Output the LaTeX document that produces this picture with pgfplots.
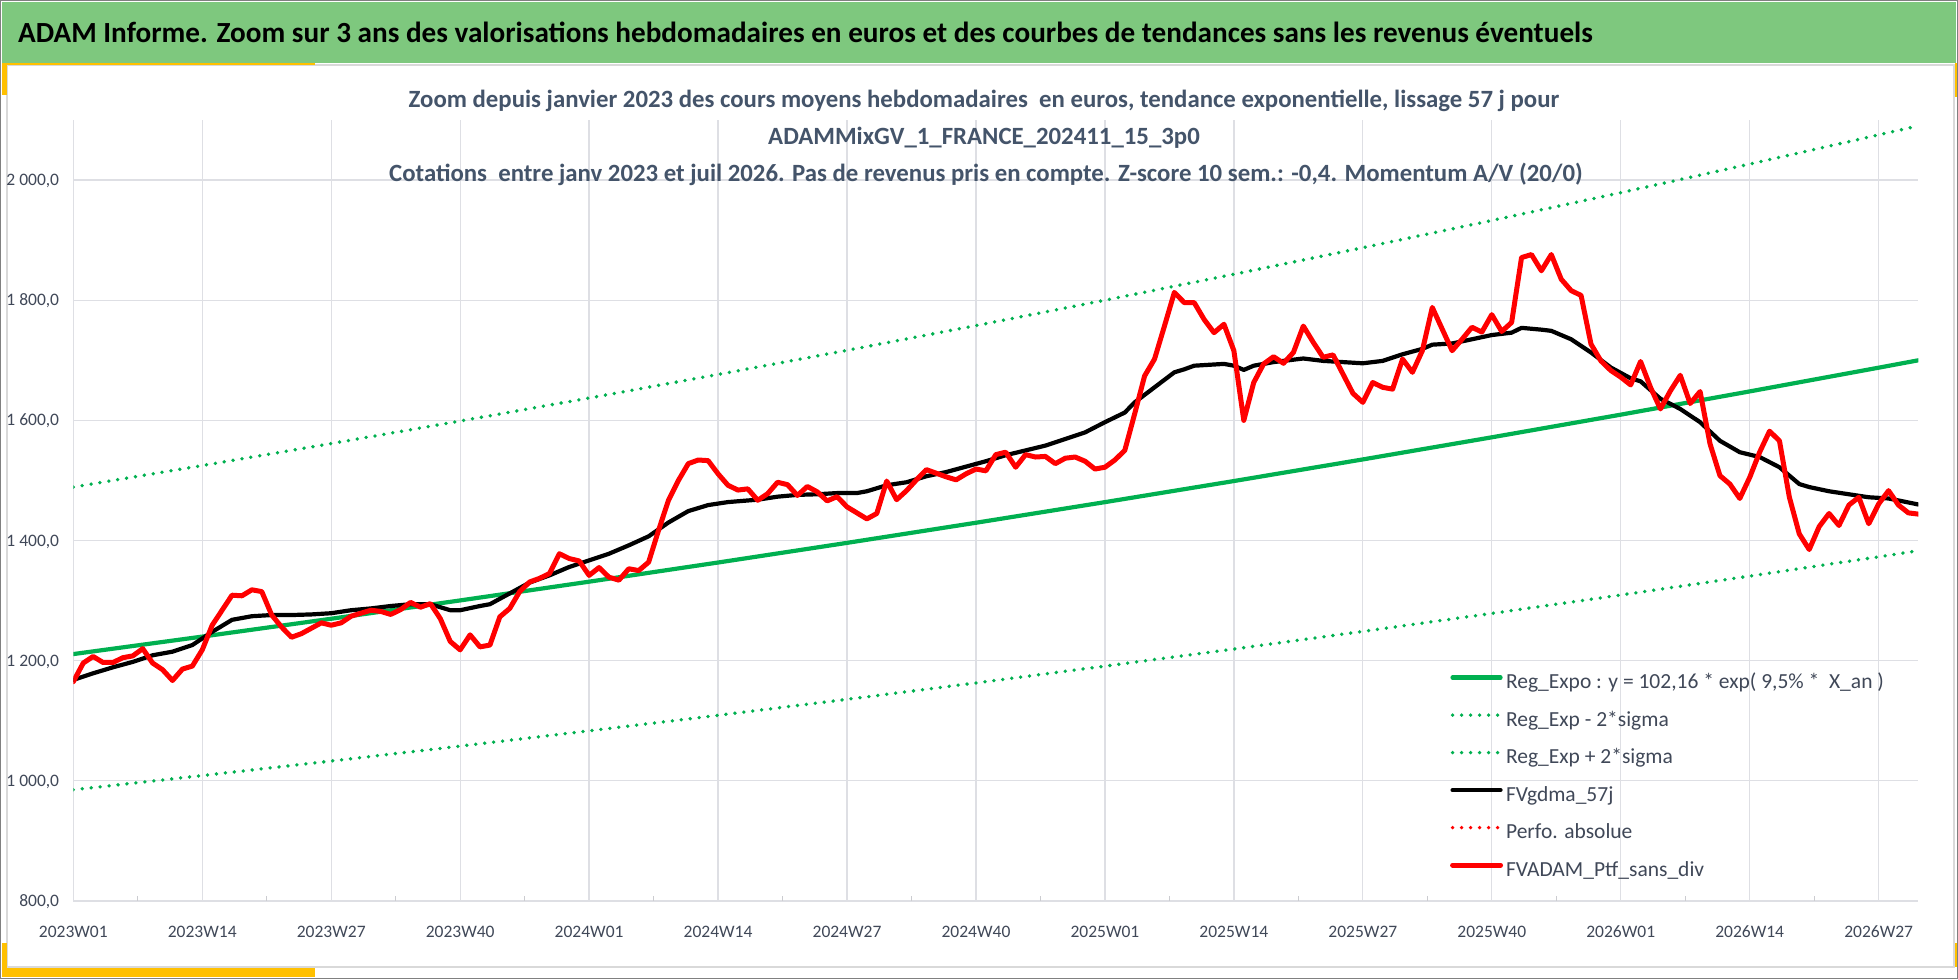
\documentclass[border=0pt]{standalone}
\usepackage{fontspec}
\setmainfont{Carlito}
\usepackage{pgfplots}
\usepackage{pgfplotstable}
\pgfplotsset{compat=1.18}
\definecolor{bannergreen}{RGB}{126,200,126}
\definecolor{xlgreen}{RGB}{0,176,80}
\definecolor{gold}{RGB}{255,192,0}
\definecolor{subcol}{RGB}{68,84,106}
\definecolor{tickcol}{RGB}{64,72,88}
\definecolor{gridcol}{RGB}{222,223,228}
\definecolor{framegray}{RGB}{217,217,217}

\pgfplotstableread{
w v
0 1211.0
13 1240.1
26 1269.8
39 1300.3
52 1331.5
65 1363.4
78 1396.1
91 1429.6
104 1463.9
117 1499.0
130 1535.0
143 1571.8
156 1609.5
169 1648.2
182 1687.7
186 1700.0
}\regexpo

\pgfplotstableread{
w v
0 1489.0
13 1524.8
26 1561.4
39 1598.9
52 1637.2
65 1676.4
78 1716.6
91 1757.8
104 1800.0
117 1843.2
130 1887.4
143 1932.7
156 1979.0
169 2026.6
182 2075.2
186 2090.3
}\regup

\pgfplotstableread{
w v
0 985.1
13 1008.8
26 1033.0
39 1057.8
52 1083.2
65 1109.1
78 1135.7
91 1163.0
104 1190.9
117 1219.4
130 1248.7
143 1278.7
156 1309.3
169 1340.8
182 1372.9
186 1383.0
}\reglow

\pgfplotstableread{
w v
0 1168
2 1179
4 1189
6 1198
8 1209
10 1215
12 1226
14 1248
16 1268
18 1274
20 1276
22 1276
24 1277
26 1279
28 1284
30 1287
32 1291
34 1294
36 1294
38 1284
39 1284
41 1291
42 1294
44 1312
46 1330
48 1342
50 1356
52 1367
54 1378
56 1392
58 1407
60 1430
62 1449
64 1459
66 1464
69 1468
71 1473
73 1476
75 1477
77 1479
79 1479
80 1482
82 1492
84 1497
86 1507
88 1514
90 1523
92 1532
94 1542
96 1550
98 1558
100 1569
102 1580
104 1597
106 1613
107 1630
109 1655
111 1680
112 1685
113 1691
115 1693
116 1694
117 1691
118 1684
119 1691
121 1697
124 1703
126 1699
128 1697
130 1695
132 1699
134 1710
136 1719
137 1726
139 1728
141 1735
143 1742
145 1746
146 1754
148 1751
149 1749
151 1735
153 1713
155 1688
157 1670
158 1665
160 1636
162 1619
164 1597
166 1566
168 1547
170 1539
172 1522
174 1494
175 1489
177 1482
179 1477
181 1472
183 1470
186 1460
}\gdma

\pgfplotstableread{
w v
0 1165
1 1196
2 1207
3 1197
4 1197
5 1205
6 1208
7 1220
8 1196
9 1185
10 1167
11 1186
12 1191
13 1218
14 1259
15 1284
16 1309
17 1308
18 1318
19 1315
20 1276
21 1256
22 1239
23 1245
24 1254
25 1263
26 1259
27 1263
28 1274
29 1279
30 1284
31 1282
32 1277
33 1285
34 1297
35 1289
36 1295
37 1270
38 1232
39 1218
40 1243
41 1223
42 1226
43 1273
44 1287
45 1315
46 1331
47 1337
48 1345
49 1378
50 1370
51 1366
52 1342
53 1355
54 1339
55 1334
56 1353
57 1350
58 1364
59 1417
60 1467
61 1500
62 1528
63 1534
64 1533
65 1511
66 1492
67 1484
68 1486
69 1467
70 1478
71 1497
72 1493
73 1475
74 1490
75 1481
76 1466
77 1473
78 1456
79 1446
80 1436
81 1445
82 1499
83 1468
84 1483
85 1501
86 1518
87 1512
88 1506
89 1501
90 1511
91 1519
92 1516
93 1543
94 1547
95 1522
96 1543
97 1539
98 1540
99 1528
100 1537
101 1539
102 1532
103 1519
104 1522
105 1534
106 1550
107 1611
108 1674
109 1702
110 1757
111 1813
112 1796
113 1796
114 1768
115 1746
116 1760
117 1716
118 1600
119 1663
120 1694
121 1706
122 1695
123 1713
124 1757
125 1730
126 1705
127 1709
128 1677
129 1645
130 1630
131 1663
132 1655
133 1652
134 1702
135 1680
136 1716
137 1788
138 1752
139 1716
140 1735
141 1755
142 1747
143 1776
144 1748
145 1763
146 1871
147 1876
148 1849
149 1876
150 1835
151 1816
152 1808
153 1727
154 1699
155 1683
156 1672
157 1659
158 1698
159 1655
160 1619
161 1649
162 1675
163 1628
164 1648
165 1561
166 1508
167 1494
168 1470
169 1505
170 1547
171 1582
172 1566
173 1472
174 1411
175 1385
176 1423
177 1445
178 1425
179 1459
180 1472
181 1428
182 1461
183 1483
184 1459
185 1446
186 1444
}\ptf

\begin{document}
\begin{tikzpicture}[x=1bp,y=1bp]
\useasboundingbox (0,0) rectangle (1958,979);
\fill[white] (0,0) rectangle (1958,979);
\fill[bannergreen] (2,916) rectangle (1956,977);
\draw[framegray, line width=1.2bp] (7,12) rectangle (1954,914);
\fill[gold] (2,884) rectangle (7,916);
\fill[gold] (7,913.5) rectangle (315,916);
\fill[gold] (2,2) rectangle (7,36);
\fill[gold] (2,2) rectangle (315,11);
\fill[gold] (1954.5,882) rectangle (1957,916);
\fill[gold] (1954.5,12) rectangle (1957,36);
\draw[gray, line width=1.5bp] (0.75,0.75) rectangle (1957.25,978.25);

\node[anchor=base west, inner sep=0pt] at (18,936)
  {\fontsize{29.2bp}{34bp}\selectfont\bfseries ADAM Informe. Zoom sur 3 ans des valorisations hebdomadaires en euros et des courbes de tendances sans les revenus éventuels};

\begin{axis}[
  at={(73.3bp,78bp)}, anchor=south west,
  width=1845bp, height=781bp, scale only axis,
  xmin=0, xmax=186, ymin=800, ymax=2100,
  axis line style={draw=none},
  xtick={0,13,...,182},
  xticklabels={2023W01,2023W14,2023W27,2023W40,2024W01,2024W14,2024W27,2024W40,2025W01,2025W14,2025W27,2025W40,2026W01,2026W14,2026W27},
  minor xtick={6.5,19.5,...,175.5},
  ytick={800,1000,...,2000},
  yticklabels={{800,0},{1 000,0},{1 200,0},{1 400,0},{1 600,0},{1 800,0},{2 000,0}},
  xmajorgrids, ymajorgrids,
  major grid style={gridcol, line width=1.3bp},
  major tick length=0pt,
  minor tick length=5bp,
  tick align=inside,
  minor tick style={draw=gridcol!80!gray, line width=1.3bp},
  xtick pos=left, ytick pos=left,
  xticklabel style={font=\fontsize{17.5bp}{20bp}\selectfont, text=tickcol, anchor=base, inner sep=0pt, yshift=-37bp},
  yticklabel style={font=\fontsize{17.5bp}{20bp}\selectfont, text=tickcol, anchor=east, inner sep=0pt, xshift=-14bp, text height=11bp, text depth=0pt},
  legend style={
    at={(0.7462,0.2899)}, anchor=north west, draw=none, fill=none,
    inner sep=0pt, outer sep=0pt,
    font=\fontsize{21.5bp}{24bp}\selectfont, text=tickcol,
    row sep=19.5bp, column sep=3bp,
    nodes={inner sep=0pt, text height=14bp, text depth=4bp},
  },
  legend cell align=left,
  legend image code/.code={\draw[#1] (0bp,6bp) -- (48bp,6bp);},
]
\addlegendimage{xlgreen, line width=4.2bp, line cap=round}
\addlegendentry{Reg\_Expo : y = 102,16 * exp( 9,5\% *\ \ X\_an )}
\addlegendimage{xlgreen, line width=3.8bp, line cap=round, dash pattern=on 0bp off 9bp}
\addlegendentry{Reg\_Exp - 2*sigma}
\addlegendimage{xlgreen, line width=3.8bp, line cap=round, dash pattern=on 0bp off 9bp}
\addlegendentry{Reg\_Exp + 2*sigma}
\addlegendimage{black, line width=4.2bp, line cap=round}
\addlegendentry{FVgdma\_57j}
\addlegendimage{red, line width=3.8bp, line cap=round, dash pattern=on 0bp off 9bp}
\addlegendentry{Perfo. absolue}
\addlegendimage{red, line width=5bp, line cap=round}
\addlegendentry{FVADAM\_Ptf\_sans\_div}

\addplot[forget plot, xlgreen, line width=3.8bp, line cap=round, dash pattern=on 0bp off 9bp] table[x=w,y=v] {\reglow};
\addplot[forget plot, xlgreen, line width=3.8bp, line cap=round, dash pattern=on 0bp off 9bp] table[x=w,y=v] {\regup};
\addplot[forget plot, xlgreen, line width=4.2bp, line cap=round, line join=round] table[x=w,y=v] {\regexpo};
\addplot[forget plot, black, line width=4.2bp, line cap=round, line join=round] table[x=w,y=v] {\gdma};
\addplot[forget plot, red, line width=5bp, line cap=round, line join=round] table[x=w,y=v] {\ptf};
\end{axis}

\node[anchor=base, inner sep=0pt, text=subcol] at (984,871)
  {\fontsize{24.8bp}{28bp}\selectfont\bfseries Zoom depuis janvier 2023 des cours moyens hebdomadaires\ \ en euros, tendance exponentielle, lissage 57 j pour};
\node[anchor=base, inner sep=0pt, text=subcol] at (984,834)
  {\fontsize{24.8bp}{28bp}\selectfont\bfseries ADAMMixGV\_1\_FRANCE\_202411\_15\_3p0};
\node[anchor=base, inner sep=0pt, text=subcol] at (986,797)
  {\fontsize{24.8bp}{28bp}\selectfont\bfseries Cotations\ \ entre janv 2023 et juil 2026. Pas de revenus pris en compte. Z-score 10 sem.: -0,4. Momentum A/V (20/0)};
\end{tikzpicture}
\end{document}
